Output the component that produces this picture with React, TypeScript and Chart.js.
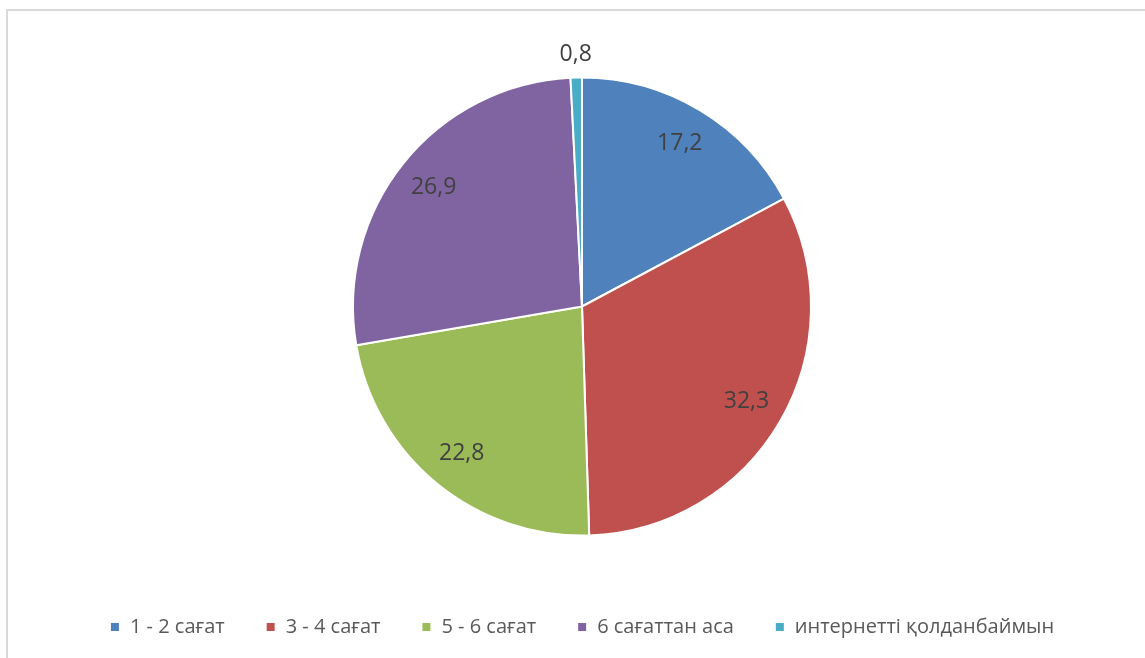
import React, { useEffect, useRef } from "react";
import { Chart, registerables } from "chart.js";

Chart.register(...registerables);

const categories = ["1 - 2 сағат", "3 - 4 сағат", "5 - 6 сағат", "6 сағаттан аса", "интернетті қолданбаймын"];
const values = [17.2, 32.3, 22.8, 26.9, 0.8];
const colors = ["#4F81BD", "#C0504D", "#9BBB59", "#8064A2", "#4BACC6"];

const FONT = "'Open Sans', 'Noto Sans', sans-serif";

const labelPlugin = {
  id: "sliceLabels",
  afterDatasetsDraw(chart: any) {
    const ctx = chart.ctx;
    const meta = chart.getDatasetMeta(0);
    ctx.save();
    ctx.font = `23px ${FONT}`;
    ctx.fillStyle = "#404040";
    ctx.textAlign = "center";
    ctx.textBaseline = "middle";
    meta.data.forEach((arc: any, i: number) => {
      const { x, y, startAngle, endAngle, outerRadius } = arc.getProps(
        ["x", "y", "startAngle", "endAngle", "outerRadius"],
        true
      );
      const mid = (startAngle + endAngle) / 2;
      const small = values[i] < 2;
      const r = small ? outerRadius * 1.1 : outerRadius * 0.83;
      const tx = x + Math.cos(mid) * r;
      const ty = y + Math.sin(mid) * r;
      ctx.fillText(String(values[i]).replace(".", ","), tx, ty);
    });
    ctx.restore();
  },
};

export default function App() {
  const ref = useRef<HTMLCanvasElement | null>(null);
  useEffect(() => {
    if (!ref.current) return;
    const chart = new Chart(ref.current, {
      type: "pie",
      data: {
        labels: categories,
        datasets: [
          {
            data: values,
            backgroundColor: colors,
            borderColor: "#ffffff",
            borderWidth: 2,
          },
        ],
      },
      options: {
        animation: false,
        responsive: false,
        radius: 229,
        layout: { padding: { left: 19, top: 37, bottom: 11, right: 0 } },
        plugins: {
          tooltip: { enabled: false },
          legend: {
            position: "bottom",
            labels: {
              boxWidth: 10,
              boxHeight: 10,
              padding: 41,
              color: "#595959",
              font: { size: 20, family: FONT },
            },
          },
        },
      } as any,
      plugins: [labelPlugin],
    });
    return () => chart.destroy();
  }, []);
  return (
    <div style={{ position: "fixed", left: 0, top: 0, width: 1145, height: 658, overflow: "hidden", background: "#fff" }}>
      <div style={{ position: "absolute", left: 6, top: 9, width: 1200, height: 700, border: "2px solid #d9d9d9", boxSizing: "border-box" }} />
      <canvas ref={ref} width={1145} height={658} style={{ position: "absolute", left: 0, top: 0, width: 1145, height: 658 }} />
    </div>
  );
}
